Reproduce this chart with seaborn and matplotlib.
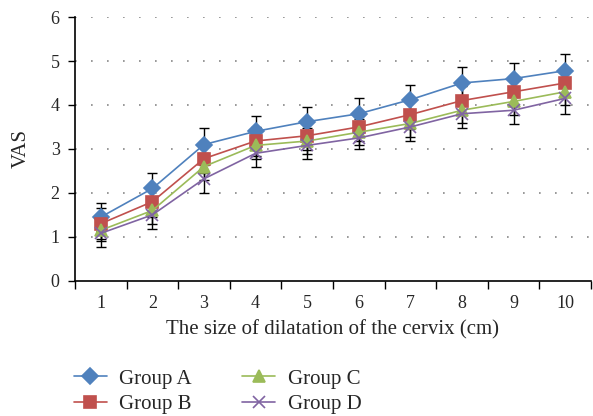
import numpy as np
import pandas as pd
import matplotlib
matplotlib.use("Agg")
import matplotlib.pyplot as plt
import seaborn as sns

# chart values
sizes = [1, 2, 3, 4, 5, 6, 7, 8, 9, 10]
group_a = [1.45, 2.1, 3.1, 3.4, 3.62, 3.8, 4.12, 4.5, 4.6, 4.78]
group_b = [1.3, 1.8, 2.78, 3.18, 3.3, 3.5, 3.78, 4.1, 4.3, 4.5]
group_c = [1.15, 1.6, 2.6, 3.08, 3.18, 3.38, 3.58, 3.88, 4.08, 4.3]
group_d = [1.08, 1.5, 2.32, 2.9, 3.08, 3.25, 3.5, 3.8, 3.88, 4.15]
err_a = [0.32, 0.35, 0.37, 0.35, 0.33, 0.36, 0.33, 0.36, 0.35, 0.37]
err_b = [0.36, 0.35, 0.33, 0.33, 0.33, 0.33, 0.33, 0.33, 0.33, 0.33]
err_c = [0.24, 0.3, 0.3, 0.3, 0.3, 0.3, 0.3, 0.3, 0.3, 0.3]
err_d = [0.31, 0.32, 0.32, 0.3, 0.31, 0.25, 0.32, 0.32, 0.31, 0.35]
groups = ["Group A", "Group B", "Group C", "Group D"]

colors = {"Group A": "#4F81BD", "Group B": "#C0504D",
          "Group C": "#9BBB59", "Group D": "#8064A2"}
markers = {"Group A": "D", "Group B": "s", "Group C": "^", "Group D": "x"}

values = {"Group A": group_a, "Group B": group_b, "Group C": group_c, "Group D": group_d}
errors = {"Group A": err_a, "Group B": err_b, "Group C": err_c, "Group D": err_d}

sns.set_style("white")
plt.rcParams["font.family"] = ["Liberation Serif", "DejaVu Serif"]

fig = plt.figure(figsize=(5.93, 4.16), dpi=100)
ax = fig.add_axes([0.1265, 0.325, 0.87, 0.634])

# error bars in black behind the lines
for g in groups:
    ax.errorbar(sizes, values[g], yerr=errors[g], fmt="none", ecolor="black",
                elinewidth=1.0, capsize=3.5, capthick=1.0, zorder=1)

# one lineplot per group (filled and line-art markers can't share one call)
for g in groups:
    df = pd.DataFrame({"size": sizes, "VAS": values[g]})
    msize = 9 if g == "Group D" else 8
    sns.lineplot(data=df, x="size", y="VAS", color=colors[g], marker=markers[g],
                 markersize=msize, markeredgewidth=1.2,
                 markeredgecolor=colors[g], linewidth=1.2, ax=ax, zorder=3)

ax.set_ylim(0, 6)
ax.set_xlim(0.5, 10.5)
ax.set_yticks(range(0, 7))
ax.set_xticks(sizes)
ax.set_xticks(np.arange(0.5, 11, 1), minor=True)
ax.tick_params(axis="x", which="major", length=0, pad=10, labelsize=13)
ax.tick_params(axis="x", which="minor", length=6, width=1, color="black", direction="out")
ax.tick_params(axis="y", length=5, width=1, color="black", direction="out", labelsize=13, pad=6)
ax.xaxis.set_ticks_position("bottom")
ax.yaxis.set_ticks_position("left")

for y in range(1, 7):
    ax.axhline(y, color="#888888", linestyle=(0, (1, 8.6)), linewidth=1.2, zorder=0)

sns.despine(ax=ax, top=True, right=True)
ax.spines["left"].set_color("black")
ax.spines["bottom"].set_color("black")
ax.spines["left"].set_linewidth(1.2)
ax.spines["bottom"].set_linewidth(1.2)

ax.set_xlabel("The size of dilatation of the cervix (cm)", fontsize=15, labelpad=6)
ax.set_ylabel("VAS", fontsize=15, labelpad=14)

handles = [plt.Line2D([], [], color=colors[g], marker=markers[g], markersize=8,
                      markeredgewidth=1.2, linewidth=1.2) for g in groups]
fig.legend(handles, groups, ncol=2, loc="upper left", bbox_to_anchor=(0.124, 0.113),
           frameon=False, fontsize=15, handlelength=1.6, handletextpad=0.6,
           columnspacing=2.4, labelspacing=0.3, borderaxespad=0, borderpad=0)

fig.savefig("out.png", dpi=100)
